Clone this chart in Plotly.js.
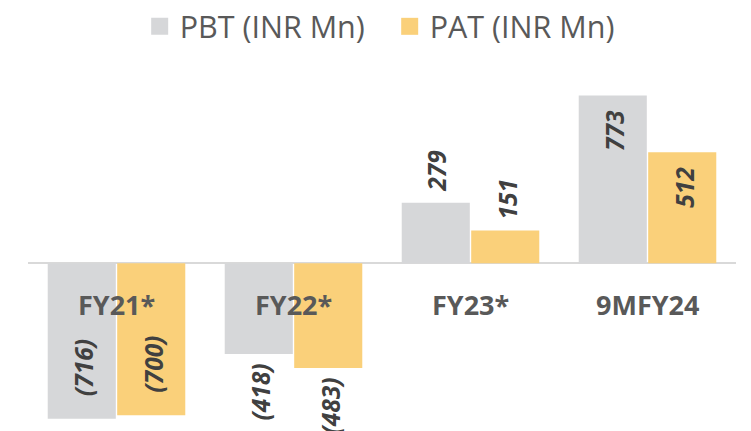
<!DOCTYPE html>
<html>
<head>
<meta charset="utf-8">
<script src="https://cdn.plot.ly/plotly-3.0.1.min.js"></script>
<style>html,body{margin:0;padding:0;background:#fff;}#chart{width:751px;height:431px;}</style>
</head>
<body>
<div id="chart"></div>
<script>
const categories = ['FY21*', 'FY22*', 'FY23*', '9MFY24'];
const pbt = [-716, -418, 279, 773];
const pat = [-700, -483, 151, 512];
const pbtLabelPos = ['inside', 'outside', 'outside', 'inside'];
const patLabelPos = ['inside', 'outside', 'outside', 'inside'];
const seriesNames = ['PBT (INR Mn)', 'PAT (INR Mn)'];
const seriesColors = ['#d6d7d9', '#fad07a'];

const FONT = '"Open Sans", "Noto Sans", sans-serif';

function fmt(v) { return v < 0 ? '(' + (-v) + ')' : String(v); }

const traces = [pbt, pat].map((vals, i) => ({
  type: 'bar',
  name: seriesNames[i],
  x: categories,
  y: vals,
  marker: { color: seriesColors[i], line: { width: 0 } },
  hoverinfo: 'x+y'
}));

const annotations = [];
[[pbt, pbtLabelPos, -35.5], [pat, patLabelPos, 35.5]].forEach(([vals, pos, dx]) => {
  vals.forEach((v, j) => {
    let yanchor, yshift;
    if (v >= 0) {
      if (pos[j] === 'inside') { yanchor = 'top'; yshift = -13; }
      else { yanchor = 'bottom'; yshift = 9; }
    } else {
      if (pos[j] === 'inside') { yanchor = 'bottom'; yshift = 20; }
      else { yanchor = 'top'; yshift = -8; }
    }
    annotations.push({
      x: categories[j], y: v, xref: 'x', yref: 'y',
      text: '<b><i>' + fmt(v) + '</i></b>',
      textangle: -90, showarrow: false,
      xanchor: 'center', yanchor: yanchor, xshift: dx + 2, yshift: yshift,
      font: { family: FONT, size: 24.5, color: '#404040' }
    });
  });
});
categories.forEach(c => {
  annotations.push({
    x: c, y: 0, xref: 'x', yref: 'y', text: '<b>' + c + '</b>', showarrow: false,
    xanchor: 'center', yanchor: 'middle', yshift: -41,
    font: { family: FONT, size: 27, color: '#595959' }
  });
});

const layout = {
  width: 751, height: 431,
  margin: { l: 28, r: 15, t: 60, b: 0, autoexpand: false },
  paper_bgcolor: '#ffffff', plot_bgcolor: '#ffffff',
  barmode: 'group', bargap: 0.215, bargroupgap: 0.02,
  showlegend: true,
  legend: {
    orientation: 'h', x: 0.186, xanchor: 'left', xref: 'container',
    y: 1.0, yanchor: 'top', yref: 'container',
    entrywidth: 205, entrywidthmode: 'pixels',
    font: { family: FONT, size: 30.5, color: '#595959' },
    traceorder: 'normal', bgcolor: 'rgba(0,0,0,0)'
  },
  xaxis: { showticklabels: false, showgrid: false, zeroline: false, showline: false, ticks: '', fixedrange: true },
  yaxis: {
    range: [-773, 937], showticklabels: false, showgrid: false, ticks: '',
    zeroline: true, zerolinecolor: '#d9d9d9', zerolinewidth: 2, showline: false, fixedrange: true
  },
  annotations: annotations,
  font: { family: FONT }
};

Plotly.newPlot('chart', traces, layout, { displayModeBar: false, staticPlot: true }).then(() => {
  document.querySelectorAll('#chart .legendpoints path').forEach(p => {
    p.setAttribute('d', 'M8.5,8.5H-8.5V-8.5H8.5Z');
  });
});
</script>
</body>
</html>
